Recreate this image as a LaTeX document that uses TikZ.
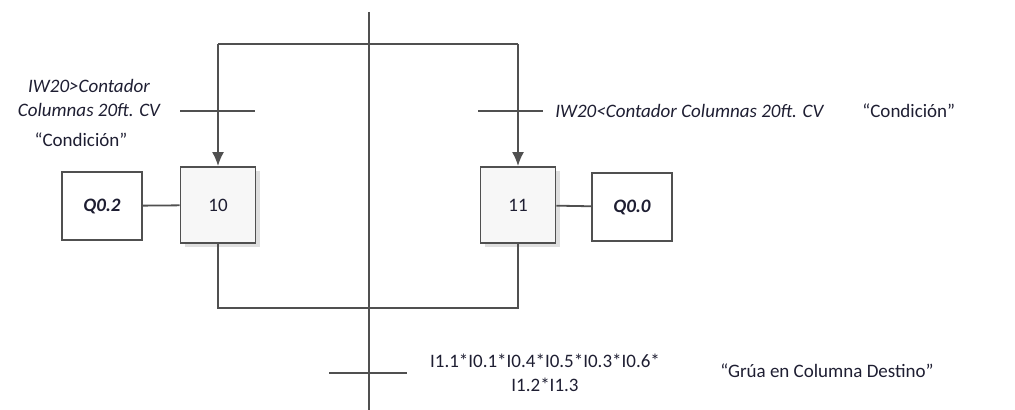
\documentclass[tikz,border=0pt]{standalone}
\usepackage{fontspec}
\setmainfont{Carlito}
\usepackage{tikz}
\usetikzlibrary{arrows.meta,positioning,shadows}
\definecolor{linea}{RGB}{80,80,80}
\definecolor{texto}{RGB}{30,30,50}

\begin{document}
\begin{tikzpicture}[
  x=0.5pt,y=-0.5pt,
  font=\fontsize{9.5}{12}\selectfont,
  text=texto,
  etapa/.style={draw=linea,line width=0.9pt,fill=gray!6,minimum width=37.5pt,minimum height=38pt,
    drop shadow={opacity=0.25,shadow xshift=2pt,shadow yshift=-2pt}},
  accion/.style={draw=linea,line width=0.9pt,fill=white,minimum width=40pt,minimum height=34pt,
    font=\fontsize{9.5}{12}\selectfont\bfseries\itshape},
  enlace/.style={draw=linea,line width=0.9pt},
  flecha/.style={-{Latex[length=7pt,width=6pt]},draw=linea,line width=0.9pt},
  cond/.style={inner sep=0pt,font=\fontsize{9.5}{12}\selectfont\itshape},
  nota/.style={inner sep=0pt},
]
\useasboundingbox (0,0) rectangle (1015,410);

% etapas y acciones
\node[etapa] (e10) at (218,205) {10};
\node[etapa] (e11) at (518,205) {11};
\node[accion] (q02) at (102,206) {Q0.2};
\node[accion] (q00) at (632,207) {Q0.0};

% puntos de la linea de flujo
\coordinate (sup) at (369,12);
\coordinate (inf) at (369,410);
\coordinate (d10) at (218,44);
\coordinate (d11) at (518,44);
\coordinate (c10) at (218,308);
\coordinate (c11) at (518,308);

\draw[enlace] (sup) -- (inf);
\draw[enlace] (d10) -- (d11);
\draw[flecha] (d10) -- (e10.north);
\draw[flecha] (d11) -- (e11.north);
\draw[enlace] (e10.south) -- (c10) -- (c11) -- (e11.south);
\draw[enlace] (q02) -- (e10);
\draw[enlace] (e11) -- (q00);

% transiciones
\draw[enlace] (180,111) -- (255,111);
\draw[enlace] (478,111) -- (543,111);
\draw[enlace] (329,373) -- (407,373);

% condiciones
\node[cond,align=center] (t1) at (89,98) {IW20>Contador\\Columnas 20ft. CV};
\node[nota] (n1) at (81,140) {“Condición”};
\node[cond,anchor=west] (t2) at (555,111) {IW20<Contador Columnas 20ft. CV};
\node[nota,anchor=west] (n2) at (862,111) {“Condición”};
\node[nota,align=center] (t3) at (545,373) {I1.1*I0.1*I0.4*I0.5*I0.3*I0.6*\\I1.2*I1.3};
\node[nota,anchor=west] (n3) at (720,371) {“Grúa en Columna Destino”};

\end{tikzpicture}
\end{document}
